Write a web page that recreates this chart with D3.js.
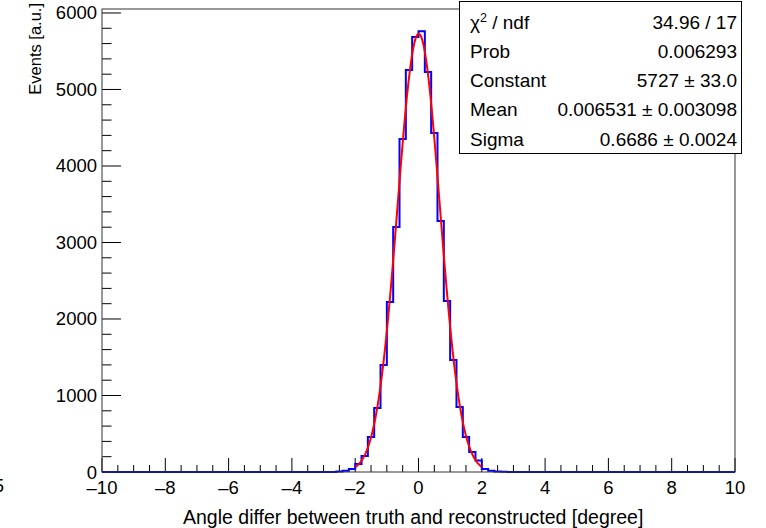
<!DOCTYPE html>
<html>
<head>
<meta charset="utf-8">
<script src="https://cdn.jsdelivr.net/npm/d3@7"></script>
<style>
  body { margin: 0; background: #fff; }
  svg { display: block; font-family: "Liberation Sans", Arial, sans-serif; }
</style>
</head>
<body>
<svg id="chart" width="766" height="528"></svg>
<script>
// histogram: 100 bins from -10 to 10
const binLow = -10
const binWidth = 0.2
const counts = [
  0, 0, 0, 0, 0, 0, 0, 0, 0, 0,
  0, 0, 0, 0, 0, 0, 0, 0, 0, 0,
  0, 0, 0, 0, 0, 0, 0, 0, 0, 0,
  0, 0, 0, 0, 0, 0, 1, 6, 16, 39,
  105, 209, 458, 837, 1399, 2222, 3203, 4353, 5255, 5686,
  5760, 5229, 4431, 3281, 2235, 1464, 850, 458, 261, 150,
  39, 15, 6, 3, 1, 0, 0, 0, 0, 0,
  0, 0, 0, 0, 0, 0, 0, 0, 0, 0,
  0, 0, 0, 0, 0, 0, 0, 0, 0, 0,
  0, 0, 0, 0, 0, 0, 0, 0, 0, 0
]

// gaussian fit result
const fitConstant = 5727
const fitMean = 0.006531
const fitSigma = 0.6686
const fitRange = [-2, 2]

const statLabels = ["χ2 / ndf", "Prob", "Constant", "Mean", "Sigma"]
const statValues = ["34.96 / 17", "0.006293", "5727 ± 33.0", "0.006531 ± 0.003098", "0.6686 ± 0.0024"]

const xTicks = [-10, -8, -6, -4, -2, 0, 2, 4, 6, 8, 10]
const yTicks = [0, 1000, 2000, 3000, 4000, 5000, 6000]

const svg = d3.select("#chart")
const pLeft = 102, pRight = 735, pTop = 9, pBottom = 472

const x = d3.scaleLinear().domain([-10, 10]).range([pLeft, pRight])
const y = d3.scaleLinear().domain([0, 6052]).range([pBottom, pTop])

// y ticks (inside, pointing right)
const yMinor = d3.range(0, 6001, 200)
svg.append("g").selectAll("line").data(yMinor).join("line")
  .attr("x1", pLeft).attr("x2", d => pLeft + (d % 1000 === 0 ? 19 : 9.5))
  .attr("y1", d => y(d)).attr("y2", d => y(d))
  .attr("stroke", "#000").attr("stroke-width", 1)

// x ticks (inside, pointing up)
const xMinor = d3.range(-10, 10.01, 0.5)
svg.append("g").selectAll("line").data(xMinor).join("line")
  .attr("x1", d => x(d)).attr("x2", d => x(d))
  .attr("y1", pBottom).attr("y2", d => pBottom - (Math.abs(d % 2) < 1e-6 ? 14 : 7))
  .attr("stroke", "#000").attr("stroke-width", 1)

// histogram outline
const pts = [[x(binLow), y(0)]]
counts.forEach((c, i) => {
  const x0 = binLow + i * binWidth
  pts.push([x(x0), y(c)], [x(x0 + binWidth), y(c)])
})
pts.push([x(binLow + counts.length * binWidth), y(0)])
svg.append("path")
  .attr("d", d3.line()(pts))
  .attr("fill", "none").attr("stroke", "#0000ff").attr("stroke-width", 2)

// fit curve
const fx = d3.range(fitRange[0], fitRange[1] + 1e-9, 0.02)
const gauss = v => fitConstant * Math.exp(-0.5 * ((v - fitMean) / fitSigma) ** 2)
svg.append("path")
  .attr("d", d3.line().x(d => x(d)).y(d => y(gauss(d)))(fx))
  .attr("fill", "none").attr("stroke", "#ff0000").attr("stroke-width", 2)

// frame
svg.append("rect")
  .attr("x", pLeft).attr("y", pTop).attr("width", pRight - pLeft).attr("height", pBottom - pTop)
  .attr("fill", "none").attr("stroke", "#333").attr("stroke-width", 1)

// tick labels
svg.append("g").selectAll("text").data(xTicks).join("text")
  .attr("x", d => x(d)).attr("y", 494)
  .attr("text-anchor", "middle").attr("font-size", 18.5)
  .text(d => d < 0 ? "\u2013" + Math.abs(d) : d)

svg.append("g").selectAll("text").data(yTicks).join("text")
  .attr("x", 97).attr("y", d => y(d) + 6.5)
  .attr("text-anchor", "end").attr("font-size", 18.5)
  .text(d => d)

// axis titles
svg.append("text")
  .attr("x", 183).attr("y", 524)
  .attr("font-size", 19.5)
  .text("Angle differ between truth and reconstructed [degree]")

svg.append("text")
  .attr("transform", "translate(41,3) rotate(-90)")
  .attr("text-anchor", "end").attr("font-size", 16.5)
  .text("Events [a.u.]")

// stray glyph at the left edge
svg.append("text").attr("x", 4).attr("y", 492).attr("text-anchor", "end")
  .attr("font-size", 18.5).text("5")

// stats box
const bx = 459.5, by = 1.5, bw = 282, bh = 152
svg.append("rect").attr("x", bx).attr("y", by).attr("width", bw).attr("height", bh)
  .attr("fill", "#fff").attr("stroke", "#000").attr("stroke-width", 1)
const rowY = i => 22 + i * 29.3 + 6.5
const lab = svg.append("g").selectAll("text").data(statLabels).join("text")
  .attr("x", 470).attr("y", (d, i) => rowY(i)).attr("font-size", 19)
lab.each(function (d) {
  const t = d3.select(this)
  if (d.startsWith("χ2")) {
    t.append("tspan").text("χ")
    t.append("tspan").attr("dy", -7).attr("font-size", 12.5).text("2")
    t.append("tspan").attr("dy", 7).text(" / ndf")
  } else t.text(d)
})
svg.append("g").selectAll("text").data(statValues).join("text")
  .attr("x", 737).attr("y", (d, i) => rowY(i)).attr("text-anchor", "end")
  .attr("font-size", 19).text(d => d)
</script>
</body>
</html>
